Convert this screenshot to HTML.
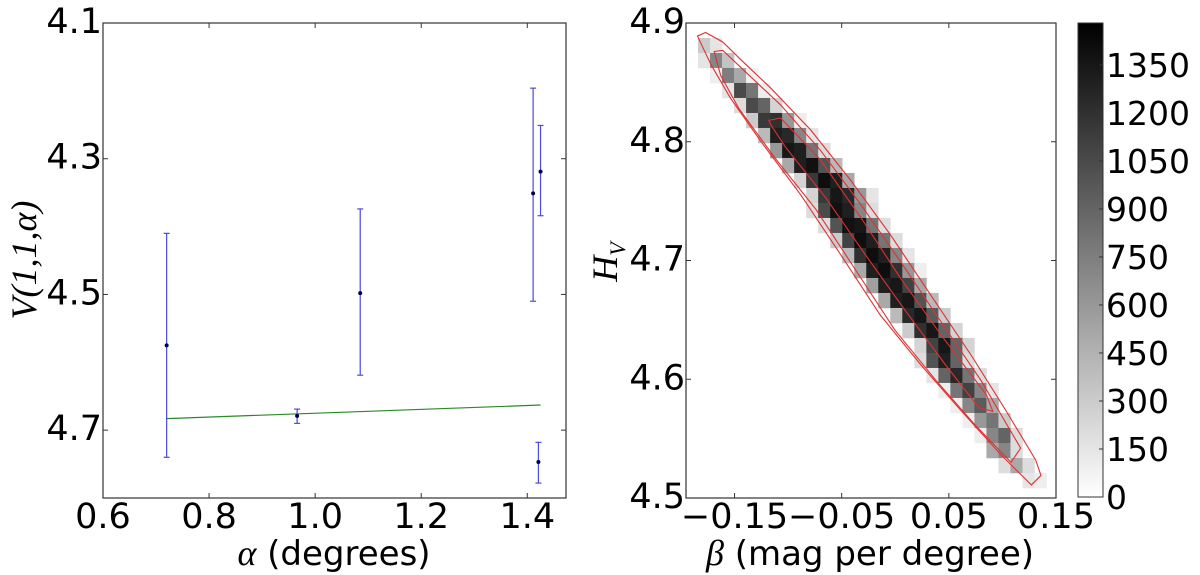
<!DOCTYPE html>
<html><head><meta charset="utf-8"><style>
html,body{margin:0;padding:0;background:#fff;width:1200px;height:575px;overflow:hidden}
svg{display:block;font-family:"DejaVu Sans","Liberation Sans",sans-serif}
</style></head><body>
<svg id="fig" width="1200" height="575" viewBox="0 0 1200 575" xmlns="http://www.w3.org/2000/svg"></svg>
<script>
// ---------- Left chart data ----------
const alphaVals = [0.72, 0.966, 1.085, 1.411, 1.425, 1.421];
const vVals     = [4.575, 4.679, 4.498, 4.351, 4.319, 4.747];
const vLow      = [4.41, 4.669, 4.374, 4.196, 4.251, 4.718];
const vHigh     = [4.74, 4.69, 4.619, 4.51, 4.384, 4.778];
const fitAlpha  = [0.72, 1.425];
const fitV      = [4.683, 4.663];
const leftXTicks = [0.6, 0.8, 1.0, 1.2, 1.4];
const leftXLabels = ["0.6","0.8","1.0","1.2","1.4"];
const leftYTicks = [4.1, 4.3, 4.5, 4.7];
const leftYLabels = ["4.1","4.3","4.5","4.7"];

// ---------- Right chart data (2D histogram rows, top to bottom) ----------
const rowStartCol = [1,1,2,3,4,5,6,7,8,9,10,10,11,12,13,14,15,16,17,18,19,19,20,21,22,23,24,25,26,28];
const rowCounts = [
 [300,150],
 [150,700,350],
 [100,750,500,80],
 [150,1050,800,100],
 [200,1050,900,250],
 [300,1150,1200,600,100],
 [400,1300,1250,700,150],
 [600,1350,1300,800,200],
 [500,1300,1380,1000,400],
 [250,1150,1400,1300,500],
 [250,1150,1350,1250,600,150],
 [200,1050,1380,1300,700,200],
 [200,1000,1380,1350,800,200],
 [300,1100,1400,1300,800,200],
 [400,1200,1400,1300,700,150],
 [500,1300,1400,1200,600,100],
 [550,1300,1350,1100,500],
 [500,1300,1350,1000,400],
 [400,1250,1350,950,300],
 [300,1200,1350,900,250],
 [250,1100,1350,900,250],
 [200,1000,1300,900,200],
 [150,900,1250,800,200],
 [100,800,1100,700,150],
 [100,700,950,500],
 [100,600,800,300],
 [100,700,900,200],
 [500,700,200],
 [200,500,200],
 [150,100]
];
const histBetaMin = -0.1953, histBetaStep = 0.011215;
const histHMax = 4.8874, histHStep = 0.012632;
const contourOuterB = [-0.1846,-0.177,-0.161,-0.144,-0.116,-0.079,-0.042,-0.004,0.033,0.071,0.103,0.131,0.136,0.127,0.099,0.061,0.024,-0.014,-0.051,-0.088,-0.126,-0.154,-0.172];
const contourOuterH = [4.889,4.892,4.884,4.869,4.845,4.810,4.768,4.721,4.671,4.620,4.574,4.532,4.519,4.511,4.536,4.574,4.612,4.654,4.705,4.755,4.801,4.837,4.865];
const contourMidB = [-0.169,-0.161,-0.140,-0.107,-0.070,-0.032,0.005,0.043,0.080,0.117,0.108,0.075,0.038,0.000,-0.037,-0.074,-0.112,-0.146,-0.163];
const contourMidH = [4.876,4.877,4.859,4.831,4.793,4.747,4.699,4.648,4.599,4.542,4.530,4.561,4.599,4.641,4.692,4.743,4.786,4.828,4.856];
const contourInB = [-0.118,-0.107,-0.070,-0.032,0.005,0.043,0.085,0.091,0.078,0.047,0.010,-0.028,-0.065,-0.102,-0.116];
const contourInH = [4.818,4.820,4.785,4.736,4.685,4.637,4.587,4.573,4.576,4.612,4.657,4.705,4.753,4.795,4.814];
const rightXTicks = [-0.15,-0.05,0.05,0.15];
const rightXLabels = ["\u22120.15","\u22120.05","0.05","0.15"];
const rightYTicks = [4.9,4.8,4.7,4.6,4.5];
const rightYLabels = ["4.9","4.8","4.7","4.6","4.5"];
const cbarTicks = [0,150,300,450,600,750,900,1050,1200,1350];
const cbarMax = 1481;

const NS="http://www.w3.org/2000/svg";
const svg=document.getElementById('fig');
function mk(tag,attrs,parent){const e=document.createElementNS(NS,tag);for(const k in attrs)e.setAttribute(k,attrs[k]);(parent||svg).appendChild(e);return e;}

const L={x0:103,x1:566,y0:23,y1:498};
const lx=a=>L.x0+(a-0.6)/(1.473-0.6)*(L.x1-L.x0);
const ly=v=>L.y0+(v-4.1)/(4.8-4.1)*(L.y1-L.y0);
const R={x0:686,x1:1056,y0:23,y1:498};
const rx=b=>R.x0+(b+0.1953)/(0.15+0.1953)*(R.x1-R.x0);
const ry=h=>R.y0+(4.9-h)/(0.4)*(R.y1-R.y0);
const gray=v=>{const g=Math.round(255*(1-Math.min(v,cbarMax)/cbarMax));return `rgb(${g},${g},${g})`;};
const FS=35;

// ---- Left plot ----
const gL=mk('g',{});


const fit=mk('line',{x1:lx(fitAlpha[0]),y1:ly(fitV[0]),x2:lx(fitAlpha[1]),y2:ly(fitV[1]),stroke:'#2a8a2a','stroke-width':1.2},gL);


for(let i=0;i<alphaVals.length;i++){
  const g=mk('g',{},gL);
  
  
  const x=lx(alphaVals[i]);
  mk('line',{x1:x,x2:x,y1:ly(vLow[i]),y2:ly(vHigh[i]),stroke:'#4a4ae0','stroke-width':1.2},g);
  mk('line',{x1:x-3,x2:x+3,y1:ly(vLow[i]),y2:ly(vLow[i]),stroke:'#4a4ae0','stroke-width':1.2},g);
  mk('line',{x1:x-3,x2:x+3,y1:ly(vHigh[i]),y2:ly(vHigh[i]),stroke:'#4a4ae0','stroke-width':1.2},g);
  mk('circle',{cx:x,cy:ly(vVals[i]),r:2,fill:'#000050'},g);
}
const frL=mk('rect',{x:L.x0,y:L.y0,width:L.x1-L.x0,height:L.y1-L.y0,fill:'none',stroke:'#333','stroke-width':1.2},gL);


leftXTicks.forEach((t,i)=>{const x=lx(t);
  mk('line',{x1:x,x2:x,y1:L.y1,y2:L.y1-5,stroke:'#333'},gL);mk('line',{x1:x,x2:x,y1:L.y0,y2:L.y0+5,stroke:'#333'},gL);
  const tx=mk('text',{x:x,y:528,'font-size':FS,'text-anchor':'middle'},gL);tx.textContent=leftXLabels[i];
  
  });
leftYTicks.forEach((t,i)=>{const y=ly(t);
  mk('line',{x1:L.x0,x2:L.x0+5,y1:y,y2:y,stroke:'#333'},gL);mk('line',{x1:L.x1,x2:L.x1-5,y1:y,y2:y,stroke:'#333'},gL);
  const tx=mk('text',{x:102,y:y+10,'font-size':FS,'text-anchor':'end'},gL);tx.textContent=leftYLabels[i];
  
  });
const xl=mk('text',{x:334,y:565,'font-size':34,'text-anchor':'middle'},gL);
xl.innerHTML='<tspan font-family="Liberation Serif" font-style="italic" font-size="36">α</tspan> (degrees)';


const yl=mk('text',{x:0,y:0,'font-size':36,'text-anchor':'middle','font-family':'Liberation Serif','font-style':'italic',transform:'translate(36,260) rotate(-90)'},gL);
yl.textContent='V(1,1,α)';



// ---- Right plot ----
const gR=mk('g',{});


const cw=rx(histBetaMin+histBetaStep)-rx(histBetaMin), ch=ry(histHMax-histHStep)-ry(histHMax);
rowCounts.forEach((row,r)=>{row.forEach((v,j)=>{
  const b=histBetaMin+(rowStartCol[r]+j)*histBetaStep, h=histHMax-r*histHStep;
  const c=mk('rect',{x:rx(b),y:ry(h),width:cw+0.3,height:ch+0.3,fill:gray(v)},gR);
  
  
});});
function contour(B,H,name){const pts=B.map((b,i)=>rx(b)+','+ry(H[i])).join(' ');
  const p=mk('polygon',{points:pts,fill:'none',stroke:'#e03030','stroke-width':1.1},gR);
  
  }
contour(contourOuterB,contourOuterH,'contour-outer');
contour(contourMidB,contourMidH,'contour-middle');
contour(contourInB,contourInH,'contour-inner');
const frR=mk('rect',{x:R.x0,y:R.y0,width:R.x1-R.x0,height:R.y1-R.y0,fill:'none',stroke:'#333','stroke-width':1.2},gR);


rightXTicks.forEach((t,i)=>{const x=rx(t);
  mk('line',{x1:x,x2:x,y1:R.y1,y2:R.y1-5,stroke:'#333'},gR);mk('line',{x1:x,x2:x,y1:R.y0,y2:R.y0+5,stroke:'#333'},gR);
  const tx=mk('text',{x:x,y:528,'font-size':FS,'text-anchor':'middle'},gR);tx.textContent=rightXLabels[i];
  
  });
rightYTicks.forEach((t,i)=>{const y=ry(t);
  mk('line',{x1:R.x0,x2:R.x0+5,y1:y,y2:y,stroke:'#333'},gR);mk('line',{x1:R.x1,x2:R.x1-5,y1:y,y2:y,stroke:'#333'},gR);
  const tx=mk('text',{x:685,y:y+10,'font-size':FS,'text-anchor':'end'},gR);tx.textContent=rightYLabels[i];
  
  });
const xr=mk('text',{x:870,y:565,'font-size':34,'text-anchor':'middle'},gR);
xr.innerHTML='<tspan font-family="Liberation Serif" font-style="italic" font-size="36">β</tspan> (mag per degree)';


const yr=mk('text',{x:0,y:0,'font-size':36,'font-family':'Liberation Serif','font-style':'italic','text-anchor':'middle',transform:'translate(617,262) rotate(-90)'},gR);
yr.innerHTML='H<tspan font-size="22" dy="8">V</tspan>';



// ---- Colorbar ----
const gC=mk('g',{});


const defs=mk('defs',{});
const lg=mk('linearGradient',{id:'cb',x1:0,y1:1,x2:0,y2:0},defs);
mk('stop',{offset:0,'stop-color':'#fff'},lg);mk('stop',{offset:1,'stop-color':'#000'},lg);
const C={x0:1078,x1:1103,y0:23,y1:497};
const cy=v=>C.y1-v/cbarMax*(C.y1-C.y0);
mk('rect',{x:C.x0,y:C.y0,width:C.x1-C.x0,height:C.y1-C.y0,fill:'url(#cb)',stroke:'#333','stroke-width':1},gC);
cbarTicks.forEach(t=>{const y=cy(t);
  mk('line',{x1:C.x1-4,x2:C.x1,y1:y,y2:y,stroke:'#333'},gC);
  const tx=mk('text',{x:1106,y:y+12,'font-size':33},gC);tx.textContent=String(t);
  
  });
</script>
</body></html>
